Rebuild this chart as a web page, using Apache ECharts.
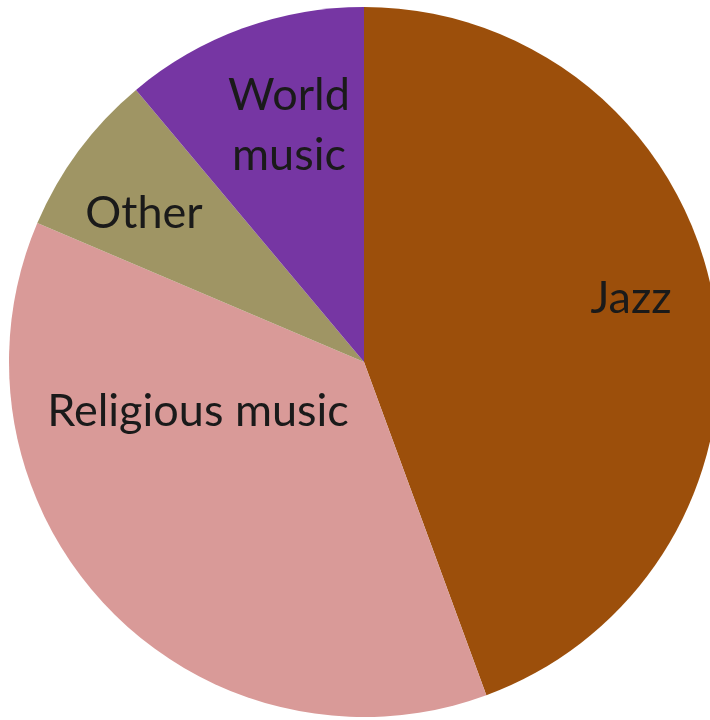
<!DOCTYPE html>
<html><head><meta charset="utf-8">
<script src="https://cdn.jsdelivr.net/npm/echarts@6/dist/echarts.min.js"></script>
<style>html,body{margin:0;padding:0;background:#fff}#c{width:710px;height:720px}</style>
</head><body><div id="c"></div>
<script>
const categories = ['Jazz', 'Religious music', 'Other', 'World music'];
const values = [44.4, 37.0, 7.5, 11.1];
const colors = ['#9C4F0B', '#D99A98', '#9F9564', '#7636A3'];
const labelText = ['Jazz', 'Religious music', 'Other', 'World\nmusic'];
const labelPos = [[631, 298], [198, 411], [144, 213], [289, 125]];

const chart = echarts.init(document.getElementById('c'), null, {renderer: 'canvas'});
chart.setOption({
  animation: false,
  series: [{
    type: 'pie',
    center: [364, 362],
    radius: [0, 355],
    startAngle: 90,
    clockwise: true,
    data: categories.map((n, i) => ({name: n, value: values[i], itemStyle: {color: colors[i]}})),
    label: {
      show: true,
      position: 'inside',
      formatter: p => labelText[p.dataIndex],
      fontFamily: 'Lato',
      fontSize: 45,
      lineHeight: 60,
      color: '#1a1a1a',
      align: 'center'
    },
    labelLine: {show: false},
    labelLayout: p => ({x: labelPos[p.dataIndex][0], y: labelPos[p.dataIndex][1], align: 'center', verticalAlign: 'middle'}),
    emphasis: {disabled: true}
  }]
});
</script></body></html>
